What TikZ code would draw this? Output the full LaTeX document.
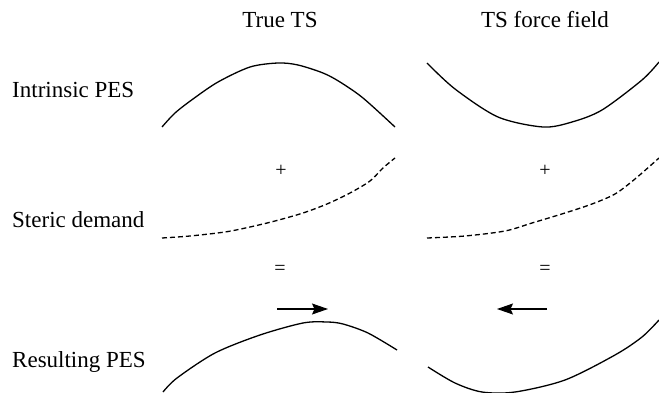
\documentclass[tikz,border=0pt]{standalone}
\usepackage{fontspec}
\setmainfont{Liberation Serif}
\usetikzlibrary{arrows.meta, positioning}

\begin{document}
\begin{tikzpicture}[
			x=1pt, y=-1pt,
			lbl/.style={font=\fontsize{23}{27}\selectfont, inner sep=0pt, anchor=base},
			rowlbl/.style={lbl, anchor=base west},
			sign/.style={font=\fontsize{20}{24}\selectfont, inner sep=0pt},
			pes/.style={line width=1.3pt, smooth, tension=0.5},
			steric/.style={pes, dash pattern=on 5pt off 3pt},
			arrow/.style={-{Stealth[length=16pt, width=11pt, inset=2.5pt]}, line width=1.1pt}
		]
		\useasboundingbox (0,0) rectangle (659,393);
		% column and row titles
		\node[lbl] (colTrue) at (280,28) {True TS};
		\node[lbl] (colFF) at (545,28) {TS force field};
		\node[rowlbl] (rowPES) at (12,98) {Intrinsic PES};
		\node[rowlbl] (rowSteric) at (12,227) {Steric demand};
		\node[rowlbl] (rowRes) at (12,367) {Resulting PES};
		\node[sign] (plusTrue) at (281,171) {+};
		\node[sign] (plusFF) at (545,171) {+};
		\node[sign] (eqTrue) at (280,270) {=};
		\node[sign] (eqFF) at (545,270) {=};
		
		% intrinsic PES
		\draw[pes] plot coordinates {(162,127) (175,113) (193,99) (218,82) (250,67) (278,63) (298,65) (323,73) (340,82) (363,98) (395,127)};
		\draw[pes] plot coordinates {(427,63) (455,89) (498,117) (543,127) (572,122) (602,110) (642,80) (659,62)};
		
		% steric demand
		\draw[steric] plot coordinates {(162,238) (190,236) (225,232) (250,227) (275,221) (303,213) (327,204) (350,193) (370,181) (383,168) (395,158)};
		\draw[steric] plot coordinates {(427,238) (465,236) (505,231) (532,223) (565,213) (592,204) (615,194) (635,179) (659,158)};
		
		% resulting PES
		\draw[pes] plot coordinates {(163,392) (177,378) (215,353) (260,335) (303,323) (327,322) (343,324) (368,333) (397,350)};
		\draw[pes] plot coordinates {(428,367) (455,383) (482,392) (515,392) (565,380) (615,355) (642,337) (659,320)};
		
		% shift of the transition state
		\coordinate (trueFrom) at (277,309);
		\coordinate (trueTo) at (328,309);
		\coordinate (ffFrom) at (547,309);
		\coordinate (ffTo) at (497,309);
		\draw[arrow] (trueFrom) -- (trueTo);
		\draw[arrow] (ffFrom) -- (ffTo);
		\end{tikzpicture}
\end{document}
